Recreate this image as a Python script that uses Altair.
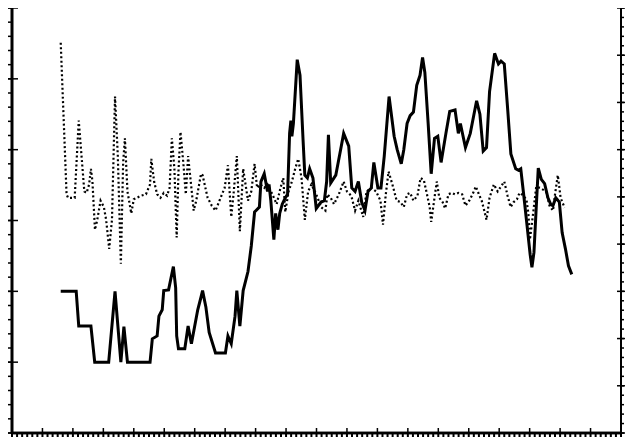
import altair as alt
import pandas as pd

# ---- data (x: 0..120 along the bottom axis, y: 0..6 on the left axis) ----
solid_x = [9.6, 12.65, 13.15, 15.55, 16.3, 19.05, 20.3, 21.45, 22.05, 22.75, 27.2, 27.65, 28.6, 28.95,
           29.6, 29.9, 30.85, 31.8, 32.25, 32.45, 32.8, 34.05, 34.7, 35.35, 36.6, 37.25, 37.55, 38.2,
           38.85, 40.1, 42.05, 42.55, 43.2, 43.95, 44.3, 44.9, 45.55, 46.5, 47.15, 47.8, 48.75, 49.05,
           49.7, 50.35, 50.65, 51.0, 51.6, 51.95, 52.4, 52.75, 53.25, 53.85, 54.3, 54.7, 54.95, 55.15,
           55.45, 56.2, 56.75, 57.35, 57.7, 58.2, 58.65, 59.3, 59.95, 60.9, 61.55, 62.0, 62.35, 62.8,
           63.8, 64.75, 65.35, 66.35, 66.95, 67.6, 68.25, 68.9, 69.55, 70.15, 70.8, 71.3, 72.1, 72.7,
           73.35, 74.3, 75.3, 75.9, 76.7, 77.2, 77.85, 78.45, 79.1, 79.75, 80.4, 80.9, 81.35, 82.0,
           82.6, 83.25, 83.9, 84.55, 85.5, 86.25, 87.3, 87.95, 88.35, 89.35, 90.3, 91.55, 92.2, 92.85,
           93.5, 94.1, 95.1, 95.85, 96.35, 97.0, 97.65, 98.3, 99.25, 99.8, 100.25, 100.85, 101.5,
           102.1, 102.45, 102.85, 103.3, 103.7, 104.3, 104.95, 105.6, 106.2, 106.6, 107.15, 107.85,
           108.4, 109.05, 109.65, 110.3]
solid_y = [2.0, 2.0, 1.51, 1.51, 1.0, 1.0, 2.0, 1.0, 1.5, 1.0, 1.0, 1.33, 1.37, 1.65,
           1.74, 2.01, 2.02, 2.35, 2.05, 1.37, 1.19, 1.19, 1.51, 1.26, 1.74, 1.92, 2.01, 1.78,
           1.42, 1.13, 1.13, 1.37, 1.26, 1.65, 2.01, 1.51, 2.01, 2.28, 2.64, 3.12, 3.19, 3.55,
           3.66, 3.41, 3.51, 3.28, 2.73, 3.10, 2.87, 3.10, 3.23, 3.32, 3.37, 4.23, 4.41, 4.19,
           4.37, 5.27, 5.05, 4.14, 3.64, 3.60, 3.73, 3.60, 3.17, 3.26, 3.28, 3.55, 4.21, 3.53,
           3.64, 4.00, 4.23, 4.05, 3.46, 3.41, 3.55, 3.26, 3.14, 3.41, 3.46, 3.82, 3.46, 3.46,
           3.91, 4.75, 4.19, 4.00, 3.80, 4.00, 4.37, 4.48, 4.53, 4.91, 5.05, 5.30, 5.09, 4.37,
           3.66, 4.16, 4.19, 3.82, 4.23, 4.54, 4.56, 4.23, 4.37, 4.03, 4.23, 4.69, 4.50, 3.98,
           4.03, 4.82, 5.36, 5.21, 5.25, 5.21, 4.59, 3.94, 3.73, 3.71, 3.73, 3.35, 2.92,
           2.52, 2.34, 2.55, 3.19, 3.74, 3.58, 3.52, 3.32, 3.22, 3.21, 3.32, 3.26,
           2.83, 2.60, 2.36, 2.24]

dotted_x = [9.6, 10.75, 11.05, 12.35, 13.15, 14.25, 14.7, 15.2, 15.55, 15.85, 16.35, 16.8, 17.45,
            18.1, 18.55, 19.15, 19.7, 20.3, 20.85, 21.45, 21.9, 22.25, 22.75, 23.5, 24.0, 25.45,
            26.4, 27.2, 27.45, 28.0, 28.6, 29.25, 29.9, 30.55, 31.05, 31.5, 32.0, 32.45, 32.8,
            33.2, 33.75, 34.25, 34.7, 35.15, 35.8, 36.3, 37.25, 37.55, 38.55, 39.35, 40.1, 41.1,
            41.9, 42.55, 43.2, 43.65, 44.3, 44.9, 45.55, 46.5, 47.15, 47.8, 48.3, 48.95, 49.7,
            50.35, 51.3, 52.15, 52.9, 53.45, 53.85, 54.5, 55.15, 55.8, 56.4, 57.05, 57.7, 58.35,
            59.0, 59.95, 60.9, 61.75, 62.15, 62.8, 63.45, 64.4, 65.35, 66.0, 66.85, 67.6, 68.25,
            69.2, 69.85, 70.8, 71.75, 72.6, 73.1, 73.65, 74.2, 74.95, 75.8, 76.55, 77.2, 77.85,
            78.45, 79.1, 79.9, 80.5, 81.15, 81.65, 82.3, 82.6, 83.25, 83.7, 84.2, 84.85, 85.35,
            86.0, 86.65, 87.3, 87.95, 88.7, 89.35, 90.1, 90.75, 91.4, 92.0, 92.55, 93.05, 93.5,
            94.1, 94.95, 95.7, 96.35, 97.0, 97.65, 98.25, 98.85, 99.5, 100.0, 100.45, 101.1,
            101.4, 101.75, 102.05, 102.75, 103.3, 104.05, 105.25, 105.9, 106.6, 107.0, 107.55,
            108.1, 108.9]
dotted_y = [5.51, 3.37, 3.32, 3.32, 4.41, 3.41, 3.39, 3.51, 3.73, 3.55, 2.87, 3.01, 3.28,
            3.19, 3.01, 2.60, 3.01, 4.75, 3.91, 2.39, 3.82, 4.16, 3.41, 3.10, 3.30, 3.35,
            3.37, 3.51, 3.87, 3.55, 3.37, 3.32, 3.39, 3.35, 3.46, 4.16, 3.73, 2.76, 3.69,
            4.25, 3.82, 3.37, 3.91, 3.60, 3.14, 3.28, 3.66, 3.64, 3.32, 3.21, 3.14, 3.32,
            3.46, 3.78, 3.05, 3.37, 3.91, 2.85, 3.73, 3.28, 3.41, 3.80, 3.46, 3.51, 3.46,
            3.51, 3.37, 3.23, 3.46, 3.60, 3.12, 3.41, 3.55, 3.73, 3.87, 3.60, 3.01, 3.41,
            3.51, 3.37, 3.19, 3.14, 3.37, 3.32, 3.23, 3.37, 3.55, 3.41, 3.35, 3.14, 3.28,
            3.05, 3.41, 3.46, 3.41, 3.28, 2.94, 3.37, 3.69, 3.51, 3.28, 3.26, 3.19, 3.37,
            3.39, 3.28, 3.35, 3.60, 3.57, 3.41, 3.19, 2.98, 3.32, 3.55, 3.32, 3.26, 3.17,
            3.37, 3.39, 3.37, 3.39, 3.37, 3.21, 3.28, 3.37, 3.48, 3.37, 3.28, 3.14, 3.01,
            3.32, 3.51, 3.41, 3.48, 3.55, 3.35, 3.19, 3.26, 3.30, 3.39, 3.37, 3.32,
            3.28, 3.10, 2.73, 3.14, 3.48, 3.46, 3.41, 3.21, 3.14, 3.37, 3.64,
            3.32, 3.18]

# ---- tick values ----
x_minor = list(range(0, 121))
x_major = list(range(0, 121, 6))
yl_minor = [i / 5 for i in range(31)]
yl_major = [0, 1, 2, 3, 4, 5, 6]
yr_minor = list(range(0, 46))
yr_major = list(range(0, 46, 5))
x_ends = [0, 120]

W, H = 609, 425

xs = alt.Scale(domain=[0, 120], nice=False, zero=False)
ys = alt.Scale(domain=[0, 6], nice=False, zero=False)
yrs = alt.Scale(domain=[0, 45], nice=False, zero=False)


def ticks_h(values, scale, x0, x1, width):
    # horizontal tick marks at the given y values, spanning pixel offsets x0..x1
    return alt.Chart(pd.DataFrame({"v": values})).mark_rule(
        color="black", strokeWidth=width
    ).encode(y=alt.Y("v:Q", scale=scale, axis=None), x=alt.value(x0), x2=alt.value(x1))


def ticks_v(values, y0, y1, width):
    return alt.Chart(pd.DataFrame({"v": values})).mark_rule(
        color="black", strokeWidth=width
    ).encode(x=alt.X("v:Q", scale=xs, axis=None), y=alt.value(y0), y2=alt.value(y1))


solid = alt.Chart(pd.DataFrame({"x": solid_x, "y": solid_y})).mark_line(
    color="black", strokeWidth=3
).encode(
    x=alt.X("x:Q", scale=xs, axis=None),
    y=alt.Y("y:Q", scale=ys, axis=None),
)

dotted = alt.Chart(pd.DataFrame({"x": dotted_x, "y": dotted_y})).mark_line(
    color="black", strokeWidth=2.2, strokeDash=[2, 2.5]
).encode(
    x=alt.X("x:Q", scale=xs, axis=None),
    y=alt.Y("y:Q", scale=ys, axis=None),
)

# axis lines (frame: left, bottom, right)
left_line = ticks_v([0], 0, H, 3)
right_line = ticks_v([120], 0, H, 2)
bottom_line = alt.Chart(pd.DataFrame({"v": x_ends})).mark_rule(
    color="black", strokeWidth=2.5
).encode(y=alt.value(H), x=alt.value(0), x2=alt.value(W))

layers = [
    solid,
    dotted,
    ticks_h(yl_minor, ys, -4, 0, 1.5),        # left minor ticks (outside)
    ticks_h(yl_major, ys, -4, 6, 1.5),        # left major ticks (crossing)
    ticks_h(yr_minor, yrs, W, W + 3, 1.5),    # right minor ticks (outside)
    ticks_h(yr_major, yrs, W - 4, W + 4, 1.5),  # right major ticks (crossing)
    ticks_v(x_minor, H, H + 4, 2),            # bottom minor ticks (outside)
    ticks_v(x_major, H, H - 5, 1.5),          # bottom major ticks (inside)
    left_line,
    right_line,
    bottom_line,
]

chart = alt.layer(*layers).resolve_scale(y="independent").properties(
    width=W, height=H,
    autosize=alt.AutoSizeParams(type="none"),
    padding={"left": 4, "top": 0, "right": 4, "bottom": 5},
    background="white",
).configure_view(strokeWidth=0)

chart.save("out.html", embed_options={"renderer": "svg", "actions": False})
